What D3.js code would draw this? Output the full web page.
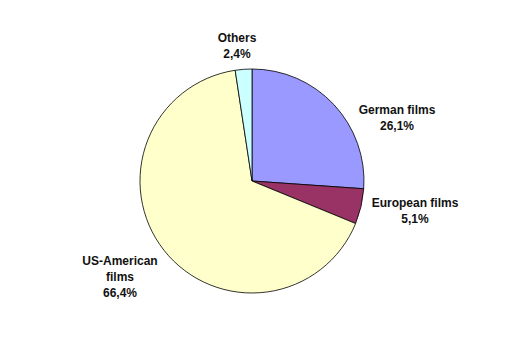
<!DOCTYPE html>
<html>
<head>
<meta charset="utf-8">
<script src="https://cdn.jsdelivr.net/npm/d3@7"></script>
<style>
  body { margin: 0; background: #fff; }
  svg text { font-family: "Liberation Sans", Arial, sans-serif; font-size: 12px; font-weight: bold; fill: #111; }
</style>
</head>
<body>
<div class="container"></div>
<script>
let categories = ["German films", "European films", "US-American films", "Others"];
let shares = [26.1, 5.1, 66.4, 2.4];
let labelLines = [["German films", "26,1%"], ["European films", "5,1%"], ["US-American", "films", "66,4%"], ["Others", "2,4%"]];
let colors = ["#9999ff", "#993366", "#ffffcc", "#ccffff"];

let width = 507, height = 360;
let cx = 252, cy = 181, radius = 112;

// label anchor offsets from pie centre (x centre, first baseline)
let labelPos = [[145, -67], [163, 26], [-132, 84], [-15, -139]];

let svg = d3.select(".container").append("svg")
    .attr("width", width)
    .attr("height", height);

let data = categories.map(function (c, i) {
    return { name: c, value: shares[i], color: colors[i], lines: labelLines[i] };
});

let pie = d3.pie()
    .sort(null)
    .value(function (d) { return d.value; });

let arc = d3.arc()
    .innerRadius(0)
    .outerRadius(radius);

let g = svg.append("g")
    .attr("transform", "translate(" + cx + "," + cy + ")");

g.selectAll("path")
    .data(pie(data))
    .enter()
    .append("path")
    .attr("d", arc)
    .attr("fill", function (d) { return d.data.color; })
    .attr("stroke", "#000")
    .attr("stroke-width", 0.8);

let labels = g.selectAll("text")
    .data(data)
    .enter()
    .append("text")
    .attr("text-anchor", "middle")
    .attr("transform", function (d, i) {
        return "translate(" + labelPos[i][0] + "," + labelPos[i][1] + ")";
    });

labels.selectAll("tspan")
    .data(function (d) { return d.lines; })
    .enter()
    .append("tspan")
    .attr("x", 0)
    .attr("dy", function (d, i) { return i === 0 ? 0 : 16; })
    .text(function (d) { return d; });
</script>
</body>
</html>
